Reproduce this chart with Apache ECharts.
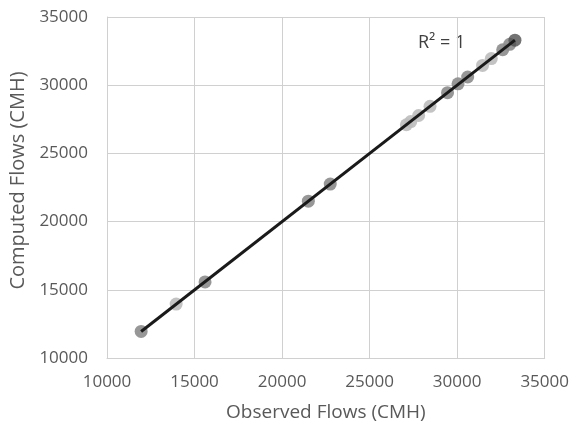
<!DOCTYPE html>
<html>
<head>
<meta charset="utf-8">
<script src="https://cdn.jsdelivr.net/npm/echarts@6/dist/echarts.min.js"></script>
<style>html,body{margin:0;padding:0;background:#fff}#c{width:572px;height:427px}</style>
</head>
<body>
<div id="c"></div>
<script>
// Light gray points
const lightObserved = [13950, 27100, 27350, 27800, 28450, 31450, 31950];
const lightComputed = [13950, 27100, 27330, 27780, 28450, 31450, 31950];
// Medium gray points
const midObserved = [11950, 15600, 21500, 22750, 29450, 30050, 30600, 32600, 33000];
const midComputed = [11950, 15580, 21500, 22750, 29450, 30100, 30600, 32600, 33000];
// Dark gray point
const darkObserved = [33300];
const darkComputed = [33300];

const axisTicks = [10000, 15000, 20000, 25000, 30000, 35000];
const xTitle = 'Observed Flows (CMH)';
const yTitle = 'Computed Flows (CMH)';
const r2Label = 'R² = 1';

function pairs(a, b) { return a.map((v, i) => [v, b[i]]); }
const allX = lightObserved.concat(midObserved, darkObserved);
const allY = lightComputed.concat(midComputed, darkComputed);
// least squares trendline
const n = allX.length;
const mx = allX.reduce((s, v) => s + v, 0) / n;
const my = allY.reduce((s, v) => s + v, 0) / n;
let sxy = 0, sxx = 0;
for (let i = 0; i < n; i++) { sxy += (allX[i] - mx) * (allY[i] - my); sxx += (allX[i] - mx) ** 2; }
const slope = sxy / sxx, icpt = my - slope * mx;
const x0 = Math.min(...allX), x1 = Math.max(...allX);
const trend = [[x0, icpt + slope * x0], [x1, icpt + slope * x1]];

const font = 'Open Sans';
const chart = echarts.init(document.getElementById('c'), null, { renderer: 'canvas' });
const axisCommon = {
  type: 'value', min: axisTicks[0], max: axisTicks[axisTicks.length - 1], interval: 5000,
  nameLocation: 'middle',
  nameTextStyle: { color: '#595959', fontFamily: font, fontSize: 19 },
  axisLine: { show: true, lineStyle: { color: '#d0d0d0', width: 1 } },
  axisTick: { show: false },
  splitLine: { show: true, lineStyle: { color: '#d0d0d0', width: 1 } },
  axisLabel: { color: '#595959', fontFamily: font, fontSize: 17, formatter: v => String(v) }
};
chart.setOption({
  animation: false,
  backgroundColor: '#fff',
  grid: { left: 107, right: 25, top: 17, bottom: 69, containLabel: false },
  xAxis: Object.assign({}, axisCommon, { name: xTitle, nameGap: 45,
    axisLabel: Object.assign({}, axisCommon.axisLabel, { margin: 16 }) }),
  yAxis: Object.assign({}, axisCommon, { name: yTitle, nameGap: 76,
    nameTextStyle: Object.assign({}, axisCommon.nameTextStyle, { fontSize: 20, padding: [0, 0, 0, 14] }),
    axisLabel: Object.assign({}, axisCommon.axisLabel, { margin: 19 }) }),
  series: [
    { type: 'scatter', data: pairs(lightObserved, lightComputed), symbolSize: 13,
      itemStyle: { color: '#bdbdbd', opacity: 0.9 } },
    { type: 'scatter', data: pairs(midObserved, midComputed), symbolSize: 13,
      itemStyle: { color: '#8c8c8c', opacity: 0.9 } },
    { type: 'scatter', data: pairs(darkObserved, darkComputed), symbolSize: 13,
      itemStyle: { color: '#505050' } },
    { type: 'line', data: trend, symbol: 'none', z: 5,
      lineStyle: { color: '#1a1a1a', width: 3 } }
  ],
  graphic: [{
    type: 'text', left: 418, top: 34,
    style: { text: r2Label, fill: '#404040', font: '18px "Open Sans"' }
  }]
});
</script>
</body>
</html>
